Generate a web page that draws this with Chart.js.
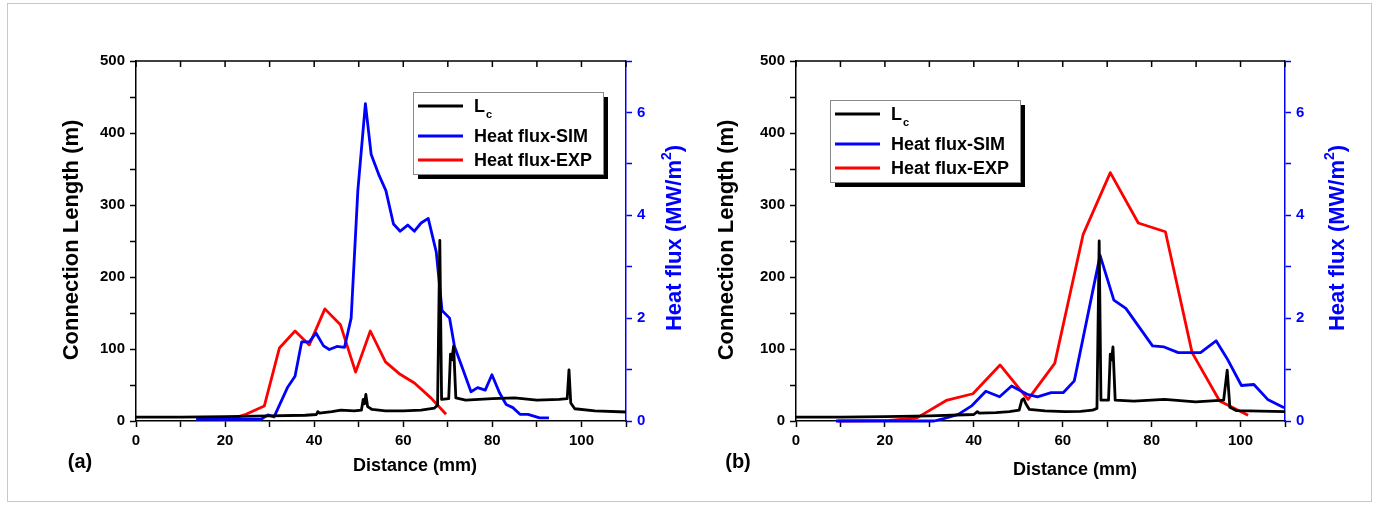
<!DOCTYPE html>
<html>
<head>
<meta charset="utf-8">
<script src="https://cdn.jsdelivr.net/npm/chart.js@4.4.1/dist/chart.umd.min.js"></script>
<style>
  body { margin: 0; background: #fff; }
  #wrap { position: relative; width: 1379px; height: 506px; overflow: hidden; }
  #frame { position: absolute; left: 7px; top: 3px; width: 1365px; height: 499px; border: 1px solid #c8c8c8; box-sizing: border-box; }
  canvas { position: absolute; top: 0; }
  #chartA { left: 0; }
  #chartB { left: 690px; }
</style>
</head>
<body>
<div id="wrap">
  <div id="frame"></div>
  <canvas id="chartA" width="690" height="506"></canvas>
  <canvas id="chartB" width="689" height="506"></canvas>
</div>
<script>
// ---- data ----
const xTicks = [0, 20, 40, 60, 80, 100];
const lcTicks = [0, 100, 200, 300, 400, 500];
const fluxTicks = [0, 2, 4, 6];
const seriesNames = ["L", "Heat flux-SIM", "Heat flux-EXP"];

// (a)
const lcDistA = [0, 10, 20, 30, 38, 40.5, 40.8, 41.2, 44, 46, 49, 50.6, 51.0, 51.3, 51.6, 52.0, 53, 56, 60, 64, 67, 67.7, 68.2, 68.6, 70.2, 70.6, 70.9, 71.3, 71.8, 74, 80, 85, 90, 95, 96.8, 97.2, 97.6, 98.5, 103, 110];
const lcA = [5.5, 5.5, 6, 7, 8, 9, 13, 11, 13, 15, 14, 15, 30, 24, 37, 20, 16, 14, 14, 15, 18, 22, 251, 30, 31, 93, 85, 104, 32, 29, 31, 32, 29, 30, 31, 71, 25, 17, 14, 12.5];
const simDistA = [13.5, 28, 29.6, 31, 34, 35.7, 37.2, 38.9, 40.4, 42.1, 43.4, 45.1, 46.8, 48.3, 49.8, 51.5, 52.8, 54.6, 56.1, 57.8, 59.3, 61, 62.5, 64, 65.6, 67.4, 68.7, 70.4, 71.5, 73.4, 75.2, 76.7, 78.4, 79.9, 81.6, 83.1, 84.6, 86.2, 88, 90.6, 92.7];
const simA = [0.03, 0.03, 0.12, 0.08, 0.65, 0.87, 1.54, 1.54, 1.71, 1.46, 1.39, 1.45, 1.43, 2.0, 4.48, 6.17, 5.18, 4.77, 4.48, 3.83, 3.69, 3.81, 3.69, 3.85, 3.94, 3.29, 2.15, 2.0, 1.45, 1.0, 0.57, 0.65, 0.6, 0.9, 0.55, 0.32, 0.26, 0.13, 0.13, 0.06, 0.06];
const expDistA = [18.7, 21.7, 24.7, 28.8, 32.2, 35.7, 38.9, 42.4, 45.9, 49.3, 52.6, 56, 59.1, 62.5, 66.2, 69.6];
const expA = [0.03, 0.05, 0.13, 0.29, 1.42, 1.75, 1.48, 2.18, 1.87, 0.95, 1.75, 1.15, 0.92, 0.74, 0.45, 0.13];

// (b)
const lcDistB = [0, 10, 20, 30, 40, 40.8, 41.2, 45, 48, 50.2, 50.8, 51.2, 51.7, 52.5, 56, 60.5, 64, 66.7, 67.7, 68.2, 68.6, 70.3, 70.7, 71.0, 71.3, 71.8, 76, 82.9, 89.9, 96.2, 97.0, 97.6, 99.1, 110];
const lcB = [5.5, 5.5, 6, 7, 9, 13, 11, 11.5, 13, 15, 29, 31, 24, 16, 14, 13, 13.5, 15, 17.5, 250, 29, 29, 93, 85, 103, 29, 27.6, 30, 26.7, 29, 70.5, 19, 14.3, 13];
const simDistB = [9, 31.1, 33.4, 36.5, 39.6, 42.7, 45.8, 48.5, 52, 54.3, 57.4, 60.1, 62.6, 68.4, 71.5, 74.2, 77, 80.2, 82.8, 86, 91, 94.5, 97.2, 100.2, 103, 106.1, 109.8];
const simB = [0, 0, 0.05, 0.13, 0.3, 0.58, 0.47, 0.68, 0.52, 0.47, 0.55, 0.55, 0.78, 3.22, 2.35, 2.19, 1.85, 1.46, 1.44, 1.33, 1.33, 1.56, 1.18, 0.69, 0.71, 0.42, 0.26];
const expDistB = [9.4, 21, 27.2, 33.8, 39.8, 45.9, 52.2, 58.2, 64.6, 70.7, 77, 83.1, 89.1, 95.3, 101.7];
const expB = [0, 0.01, 0.06, 0.4, 0.53, 1.09, 0.42, 1.12, 3.63, 4.83, 3.85, 3.68, 1.33, 0.39, 0.11];

const FONT = "'Liberation Sans', Arial, sans-serif";
const BLUE = "#0000ff";
const RED = "#ff0000";
const colors = ["#000000", BLUE, RED];

const toPoints = (xs, ys) => xs.map((x, i) => ({ x: x, y: ys[i] }));

// rotated (bottom-to-top) title, parts = [[text, size, raise], ...]
function vTitle(ctx, x, y, parts, color) {
  ctx.save();
  ctx.translate(x, y);
  ctx.rotate(-Math.PI / 2);
  ctx.fillStyle = color;
  ctx.textBaseline = "middle";
  ctx.textAlign = "left";
  let w = 0;
  parts.forEach(p => { ctx.font = "bold " + p[1] + "px " + FONT; w += ctx.measureText(p[0]).width; });
  let cx = -w / 2;
  parts.forEach(p => {
    ctx.font = "bold " + p[1] + "px " + FONT;
    ctx.fillText(p[0], cx, -p[2]);
    cx += ctx.measureText(p[0]).width;
  });
  ctx.restore();
}

const decor = {
  id: "decor",
  afterDraw(chart, args, o) {
    const { ctx, chartArea: a, scales } = chart;
    ctx.save();
    // top frame with inward ticks
    ctx.strokeStyle = "#000";
    ctx.lineWidth = 1.5;
    ctx.beginPath();
    ctx.moveTo(a.left, a.top);
    ctx.lineTo(a.right, a.top);
    for (let v = 0; v <= 110; v += 10) {
      const px = scales.x.getPixelForValue(v);
      ctx.moveTo(px, a.top);
      ctx.lineTo(px, a.top + 6);
    }
    ctx.stroke();

    // axis titles
    ctx.fillStyle = "#000";
    ctx.font = "bold 18px " + FONT;
    ctx.textAlign = "center";
    ctx.textBaseline = "middle";
    ctx.fillText("Distance (mm)", o.titleX, o.titleY);
    ctx.font = "bold 20px " + FONT;
    ctx.fillText(o.tag, o.tagX, o.tagY);
    vTitle(ctx, o.leftTitleX, 240, [["Connection Length (m)", 22, 0]], "#000");
    vTitle(ctx, o.rightTitleX, 238, [["Heat flux (MW/m", 22, 0], ["2", 14, 8], [")", 22, 0]], BLUE);

    // legend with drop shadow
    const bx = o.legendX, by = o.legendY, bw = 190, bh = 82;
    ctx.fillStyle = "#000";
    ctx.fillRect(bx + 5, by + 5, bw, bh);
    ctx.fillStyle = "#fff";
    ctx.fillRect(bx, by, bw, bh);
    ctx.strokeStyle = "#8a8a8a";
    ctx.lineWidth = 1;
    ctx.strokeRect(bx + 0.5, by + 0.5, bw, bh);
    const rows = [14, 44, 68];
    ctx.textAlign = "left";
    seriesNames.forEach((name, i) => {
      const ry = by + rows[i];
      ctx.strokeStyle = colors[i];
      ctx.lineWidth = 3;
      ctx.beginPath();
      ctx.moveTo(bx + 5, ry);
      ctx.lineTo(bx + 50, ry);
      ctx.stroke();
      ctx.fillStyle = "#000";
      ctx.font = "bold 18px " + FONT;
      ctx.fillText(name, bx + 61, ry + 1);
      if (i === 0) {
        const lw = ctx.measureText(name).width;
        ctx.font = "bold 11px " + FONT;
        ctx.fillText("c", bx + 62 + lw, ry + 9);
      }
    });
    ctx.restore();
  }
};

function makeChart(id, cfg) {
  const width = document.getElementById(id).width;
  const tickFont = { family: FONT, size: 15, weight: "bold" };
  new Chart(document.getElementById(id), {
    type: "line",
    data: {
      datasets: [
        { label: "Lc", data: toPoints(cfg.lcX, cfg.lcY), yAxisID: "y", borderColor: colors[0], borderWidth: 2.8 },
        { label: "Heat flux-SIM", data: toPoints(cfg.simX, cfg.simY), yAxisID: "y1", borderColor: colors[1], borderWidth: 2.8 },
        { label: "Heat flux-EXP", data: toPoints(cfg.expX, cfg.expY), yAxisID: "y1", borderColor: colors[2], borderWidth: 2.8 }
      ]
    },
    options: {
      responsive: false,
      animation: false,
      elements: { point: { radius: 0 }, line: { tension: 0, fill: false, borderJoinStyle: "round" } },
      datasets: { line: { clip: 4 } },
      layout: { padding: { left: 0, right: 0, top: 61, bottom: 0 } },
      scales: {
        x: {
          type: "linear", position: "bottom", min: 0, max: 110,
          ticks: { stepSize: 10, autoSkip: false, maxRotation: 0, color: "#000", font: tickFont, padding: 5,
                   callback: v => (xTicks.includes(v) ? v : "") },
          grid: { drawOnChartArea: false, drawTicks: true, tickLength: 6, tickColor: "#000", tickWidth: 1.5 },
          border: { color: "#000", width: 1.5 },
          afterFit: s => { s.height = 85; }
        },
        y: {
          type: "linear", position: "left", min: 0, max: 500,
          ticks: { stepSize: 50, autoSkip: false, color: "#000", font: tickFont, padding: 5,
                   callback: v => (lcTicks.includes(v) ? v : "") },
          grid: { drawOnChartArea: false, drawTicks: true, tickLength: 6, tickColor: "#000", tickWidth: 1.5 },
          border: { color: "#000", width: 1.5 },
          afterFit: s => { s.width = cfg.plotLeft; }
        },
        y1: {
          type: "linear", position: "right", min: 0, max: 7,
          ticks: { stepSize: 1, autoSkip: false, color: BLUE, font: tickFont, padding: 5,
                   callback: v => (fluxTicks.includes(v) ? v : "") },
          grid: { drawOnChartArea: false, drawTicks: true, tickLength: 6, tickColor: BLUE, tickWidth: 1.5 },
          border: { color: BLUE, width: 1.5 },
          afterFit: s => { s.width = width - cfg.plotRight; }
        }
      },
      plugins: {
        legend: { display: false },
        tooltip: { enabled: false },
        decor: cfg
      }
    },
    plugins: [decor]
  });
}

makeChart("chartA", {
  plotLeft: 136, plotRight: 626,
  lcX: lcDistA, lcY: lcA, simX: simDistA, simY: simA, expX: expDistA, expY: expA,
  tag: "(a)", tagX: 80, tagY: 462, titleX: 415, titleY: 466,
  leftTitleX: 72, rightTitleX: 675, legendX: 413, legendY: 92
});

makeChart("chartB", {
  plotLeft: 106, plotRight: 595,
  lcX: lcDistB, lcY: lcB, simX: simDistB, simY: simB, expX: expDistB, expY: expB,
  tag: "(b)", tagX: 48, tagY: 462, titleX: 385, titleY: 470,
  leftTitleX: 37, rightTitleX: 648, legendX: 140, legendY: 100
});
</script>
</body>
</html>
